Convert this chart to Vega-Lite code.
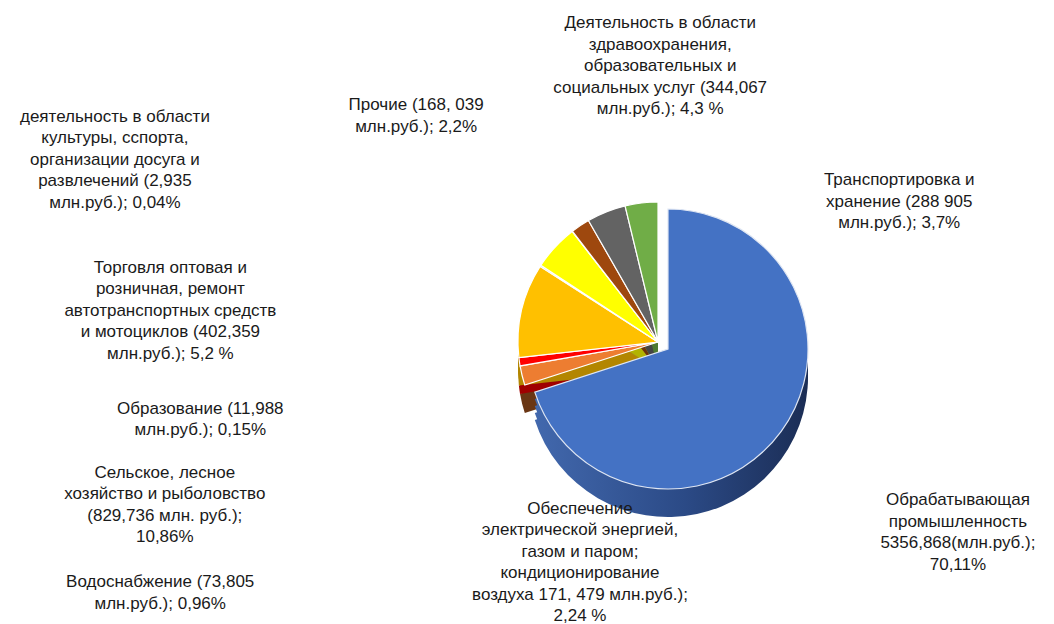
{
  "$schema": "https://vega.github.io/schema/vega-lite/v6.json",
  "width": 792,
  "height": 564,
  "autosize": {"type": "none"},
  "padding": {"left": 262, "top": 60, "right": 0, "bottom": 0},
  "background": "white",
  "config": {"view": {"stroke": null}},
  "data": {
    "values": [
      {"cat": "Обрабатывающая промышленность", "ord": 1, "value": 5356.868, "label": "Обрабатывающая\nпромышленность\n5356,868(млн.руб.);\n70,11%"},
      {"cat": "Электроэнергия", "ord": 2, "value": 171.479, "label": "Обеспечение\nэлектрической энергией,\nгазом и паром;\nкондиционирование\nвоздуха 171, 479 млн.руб.);\n2,24 %"},
      {"cat": "Водоснабжение", "ord": 3, "value": 73.805, "label": "Водоснабжение (73,805\nмлн.руб.); 0,96%"},
      {"cat": "Сельское хозяйство", "ord": 4, "value": 829.736, "label": "Сельское, лесное\nхозяйство и рыболовство\n(829,736 млн. руб.);\n10,86%"},
      {"cat": "Образование", "ord": 5, "value": 11.988, "label": "Образование (11,988\nмлн.руб.); 0,15%"},
      {"cat": "Торговля", "ord": 6, "value": 402.359, "label": "Торговля оптовая и\nрозничная, ремонт\nавтотранспортных средств\nи мотоциклов (402,359\nмлн.руб.); 5,2 %"},
      {"cat": "Культура", "ord": 7, "value": 2.935, "label": "деятельность в области\nкультуры, сспорта,\nорганизации досуга и\nразвлечений (2,935\nмлн.руб.); 0,04%"},
      {"cat": "Прочие", "ord": 8, "value": 168.039, "label": "Прочие (168, 039\nмлн.руб.); 2,2%"},
      {"cat": "Здравоохранение", "ord": 9, "value": 344.067, "label": "Деятельность в области\nздравоохранения,\nобразовательных и\nсоциальных услуг (344,067\nмлн.руб.); 4,3 %"},
      {"cat": "Транспортировка", "ord": 10, "value": 288.905, "label": "Транспортировка и\nхранение (288 905\nмлн.руб.); 3,7%"}
    ]
  },
  "encoding": {
    "theta": {"field": "value", "type": "quantitative", "stack": true},
    "order": {"field": "ord", "type": "quantitative"}
  },
  "layer": [
    {"mark": {"type": "arc", "radius": 140, "yOffset": 7},
     "encoding": {"color": {"field": "cat", "type": "nominal", "legend": null, "scale": {"domain": ["Обрабатывающая промышленность","Электроэнергия","Водоснабжение","Сельское хозяйство","Образование","Торговля","Культура","Прочие","Здравоохранение","Транспортировка"], "range": ["#2a4a86","#6a3614","#a00000","#b38600","#7a9a60","#b3b300","#909090","#6e320a","#454545","#4e7a31"]}},
      "opacity": {"condition": {"test": "datum.cat === 'Обрабатывающая промышленность'", "value": 0}, "value": 1}}},
    {"mark": {"type": "arc", "radius": 140, "yOffset": 14},
     "encoding": {"color": {"field": "cat", "type": "nominal", "legend": null, "scale": {"domain": ["Обрабатывающая промышленность","Электроэнергия","Водоснабжение","Сельское хозяйство","Образование","Торговля","Культура","Прочие","Здравоохранение","Транспортировка"], "range": ["#2a4a86","#6a3614","#a00000","#b38600","#7a9a60","#b3b300","#909090","#6e320a","#454545","#4e7a31"]}},
      "opacity": {"condition": {"test": "datum.cat === 'Обрабатывающая промышленность'", "value": 0}, "value": 1}}},
    {"mark": {"type": "arc", "radius": 140, "yOffset": 21},
     "encoding": {"color": {"field": "cat", "type": "nominal", "legend": null, "scale": {"domain": ["Обрабатывающая промышленность","Электроэнергия","Водоснабжение","Сельское хозяйство","Образование","Торговля","Культура","Прочие","Здравоохранение","Транспортировка"], "range": ["#2a4a86","#6a3614","#a00000","#b38600","#7a9a60","#b3b300","#909090","#6e320a","#454545","#4e7a31"]}},
      "opacity": {"condition": {"test": "datum.cat === 'Обрабатывающая промышленность'", "value": 0}, "value": 1}}},
    {"mark": {"type": "arc", "radius": 140, "yOffset": 28},
     "encoding": {"color": {"field": "cat", "type": "nominal", "legend": null, "scale": {"domain": ["Обрабатывающая промышленность","Электроэнергия","Водоснабжение","Сельское хозяйство","Образование","Торговля","Культура","Прочие","Здравоохранение","Транспортировка"], "range": ["#2a4a86","#6a3614","#a00000","#b38600","#7a9a60","#b3b300","#909090","#6e320a","#454545","#4e7a31"]}},
      "opacity": {"condition": {"test": "datum.cat === 'Обрабатывающая промышленность'", "value": 0}, "value": 1}}},
    {"mark": {"type": "arc", "radius": 140, "xOffset": 10, "yOffset": 14, "fill": {"gradient": "linear", "x1": 0, "y1": 0, "x2": 1, "y2": 0, "stops": [{"offset": 0, "color": "#4268ad"}, {"offset": 0.55, "color": "#2b4a86"}, {"offset": 1, "color": "#1b2d55"}]}},
     "encoding": {"opacity": {"condition": {"test": "datum.cat !== 'Обрабатывающая промышленность'", "value": 0}, "value": 1}}},
    {"mark": {"type": "arc", "radius": 140, "xOffset": 10, "yOffset": 21, "fill": {"gradient": "linear", "x1": 0, "y1": 0, "x2": 1, "y2": 0, "stops": [{"offset": 0, "color": "#4268ad"}, {"offset": 0.55, "color": "#2b4a86"}, {"offset": 1, "color": "#1b2d55"}]}},
     "encoding": {"opacity": {"condition": {"test": "datum.cat !== 'Обрабатывающая промышленность'", "value": 0}, "value": 1}}},
    {"mark": {"type": "arc", "radius": 140, "xOffset": 10, "yOffset": 28, "fill": {"gradient": "linear", "x1": 0, "y1": 0, "x2": 1, "y2": 0, "stops": [{"offset": 0, "color": "#4268ad"}, {"offset": 0.55, "color": "#2b4a86"}, {"offset": 1, "color": "#1b2d55"}]}},
     "encoding": {"opacity": {"condition": {"test": "datum.cat !== 'Обрабатывающая промышленность'", "value": 0}, "value": 1}}},
    {"mark": {"type": "arc", "radius": 140, "xOffset": 10, "yOffset": 35, "fill": {"gradient": "linear", "x1": 0, "y1": 0, "x2": 1, "y2": 0, "stops": [{"offset": 0, "color": "#4268ad"}, {"offset": 0.55, "color": "#2b4a86"}, {"offset": 1, "color": "#1b2d55"}]}},
     "encoding": {"opacity": {"condition": {"test": "datum.cat !== 'Обрабатывающая промышленность'", "value": 0}, "value": 1}}},
    {"mark": {"type": "arc", "radius": 140, "stroke": "white", "strokeWidth": 1.2},
     "encoding": {"color": {"field": "cat", "type": "nominal", "legend": null, "scale": {"domain": ["Обрабатывающая промышленность","Электроэнергия","Водоснабжение","Сельское хозяйство","Образование","Торговля","Культура","Прочие","Здравоохранение","Транспортировка"], "range": ["#4472c4","#ed7d31","#ff0000","#ffc000","#a9c08e","#ffff00","#c9c9c9","#9e480e","#636363","#70ad47"]}},
      "opacity": {"condition": {"test": "datum.cat === 'Обрабатывающая промышленность'", "value": 0}, "value": 1}}},
    {"mark": {"type": "arc", "radius": 140, "xOffset": 10, "yOffset": 7, "fill": "#4472c4", "stroke": "#dfe6f3", "strokeWidth": 1.2},
     "encoding": {"opacity": {"condition": {"test": "datum.cat !== 'Обрабатывающая промышленность'", "value": 0}, "value": 1}}},
    {"mark": {"type": "text", "radius": 340, "dx": 25, "dy": -42, "font": "Liberation Sans", "fontSize": 17, "lineHeight": 21.5, "lineBreak": "\n", "align": "center", "baseline": "middle", "fill": "#1a1a1a"},
     "encoding": {"text": {"condition": {"test": "datum.cat === 'Обрабатывающая промышленность'", "field": "label", "type": "nominal"}, "value": ""}}},
    {"mark": {"type": "text", "radius": 170, "dx": 87, "dy": 126, "font": "Liberation Sans", "fontSize": 17, "lineHeight": 21.5, "lineBreak": "\n", "align": "center", "baseline": "middle", "fill": "#1a1a1a"},
     "encoding": {"text": {"condition": {"test": "datum.cat === 'Электроэнергия'", "field": "label", "type": "nominal"}, "value": ""}}},
    {"mark": {"type": "text", "radius": 520, "dx": 17, "dy": 167, "font": "Liberation Sans", "fontSize": 17, "lineHeight": 21.5, "lineBreak": "\n", "align": "center", "baseline": "middle", "fill": "#1a1a1a"},
     "encoding": {"text": {"condition": {"test": "datum.cat === 'Водоснабжение'", "field": "label", "type": "nominal"}, "value": ""}}},
    {"mark": {"type": "text", "radius": 450, "dx": -55, "dy": 233, "font": "Liberation Sans", "fontSize": 17, "lineHeight": 21.5, "lineBreak": "\n", "align": "center", "baseline": "middle", "fill": "#1a1a1a"},
     "encoding": {"text": {"condition": {"test": "datum.cat === 'Сельское хозяйство'", "field": "label", "type": "nominal"}, "value": ""}}},
    {"mark": {"type": "text", "radius": 350, "dx": -164, "dy": 257, "font": "Liberation Sans", "fontSize": 17, "lineHeight": 21.5, "lineBreak": "\n", "align": "center", "baseline": "middle", "fill": "#1a1a1a"},
     "encoding": {"text": {"condition": {"test": "datum.cat === 'Образование'", "field": "label", "type": "nominal"}, "value": ""}}},
    {"mark": {"type": "text", "radius": 390, "dx": -201, "dy": 190, "font": "Liberation Sans", "fontSize": 17, "lineHeight": 21.5, "lineBreak": "\n", "align": "center", "baseline": "middle", "fill": "#1a1a1a"},
     "encoding": {"text": {"condition": {"test": "datum.cat === 'Торговля'", "field": "label", "type": "nominal"}, "value": ""}}},
    {"mark": {"type": "text", "radius": 490, "dx": -243, "dy": 162, "font": "Liberation Sans", "fontSize": 17, "lineHeight": 21.5, "lineBreak": "\n", "align": "center", "baseline": "middle", "fill": "#1a1a1a"},
     "encoding": {"text": {"condition": {"test": "datum.cat === 'Культура'", "field": "label", "type": "nominal"}, "value": ""}}},
    {"mark": {"type": "text", "radius": 340, "dx": -53, "dy": 46, "font": "Liberation Sans", "fontSize": 17, "lineHeight": 21.5, "lineBreak": "\n", "align": "center", "baseline": "middle", "fill": "#1a1a1a"},
     "encoding": {"text": {"condition": {"test": "datum.cat === 'Прочие'", "field": "label", "type": "nominal"}, "value": ""}}},
    {"mark": {"type": "text", "radius": 270, "dx": 102, "dy": -68, "font": "Liberation Sans", "fontSize": 17, "lineHeight": 21.5, "lineBreak": "\n", "align": "center", "baseline": "middle", "fill": "#1a1a1a"},
     "encoding": {"text": {"condition": {"test": "datum.cat === 'Здравоохранение'", "field": "label", "type": "nominal"}, "value": ""}}},
    {"mark": {"type": "text", "radius": 150, "dx": 259, "dy": -13, "font": "Liberation Sans", "fontSize": 17, "lineHeight": 21.5, "lineBreak": "\n", "align": "center", "baseline": "middle", "fill": "#1a1a1a"},
     "encoding": {"text": {"condition": {"test": "datum.cat === 'Транспортировка'", "field": "label", "type": "nominal"}, "value": ""}}}
  ],
  "resolve": {"scale": {"color": "independent"}}
}
